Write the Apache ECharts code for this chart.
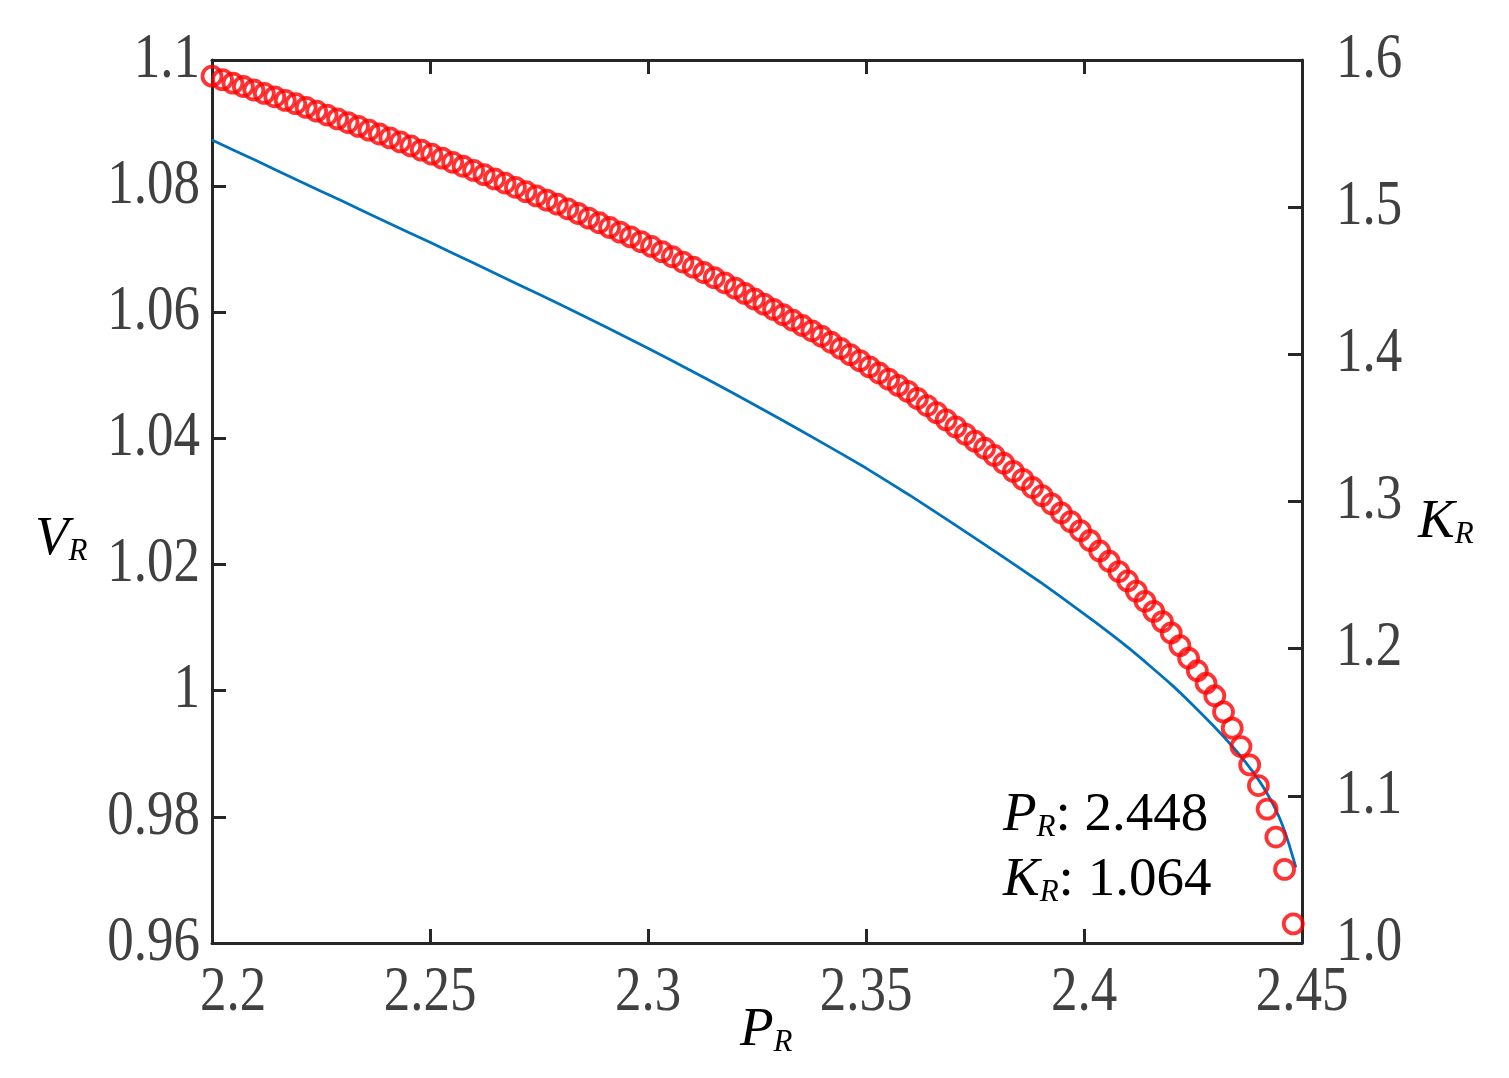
<!DOCTYPE html>
<html>
<head>
<meta charset="utf-8">
<script src="https://cdn.jsdelivr.net/npm/echarts@6/dist/echarts.min.js"></script>
<style>
  html, body { margin: 0; padding: 0; background: #fff; }
  #chart { width: 1509px; height: 1078px; }
</style>
</head>
<body>
<div id="chart"></div>
<script>
// red circles: P_R vs K_R (right axis)
const prK = [
  2.2000, 2.2024, 2.2048, 2.2072, 2.2096, 2.2120, 2.2144, 2.2168, 2.2192, 2.2216,
  2.2240, 2.2264, 2.2288, 2.2312, 2.2336, 2.2360, 2.2384, 2.2408, 2.2432, 2.2456,
  2.2480, 2.2504, 2.2528, 2.2552, 2.2576, 2.2600, 2.2624, 2.2648, 2.2672, 2.2696,
  2.2720, 2.2744, 2.2768, 2.2792, 2.2816, 2.2840, 2.2864, 2.2888, 2.2912, 2.2936,
  2.2960, 2.2984, 2.3008, 2.3032, 2.3056, 2.3080, 2.3104, 2.3128, 2.3152, 2.3176,
  2.3200, 2.3222, 2.3244, 2.3266, 2.3288, 2.3310, 2.3332, 2.3354, 2.3376, 2.3398,
  2.3420, 2.3442, 2.3464, 2.3486, 2.3508, 2.3530, 2.3552, 2.3574, 2.3596, 2.3618,
  2.3640, 2.3662, 2.3684, 2.3706, 2.3728, 2.3750, 2.3772, 2.3794, 2.3816, 2.3838,
  2.3860, 2.3882, 2.3904, 2.3926, 2.3948, 2.3970, 2.3992, 2.4014, 2.4036, 2.4058,
  2.4080, 2.4100, 2.4120, 2.4140, 2.4160, 2.4180, 2.4200, 2.4220, 2.4240, 2.4260,
  2.4280, 2.4300, 2.4320, 2.4340, 2.4360, 2.4380, 2.4400, 2.4420, 2.4440, 2.4460,
  2.4480
]
const kR = [
  1.5890, 1.5867, 1.5843, 1.5820, 1.5796, 1.5773, 1.5750, 1.5726, 1.5703, 1.5678,
  1.5652, 1.5626, 1.5600, 1.5575, 1.5549, 1.5523, 1.5497, 1.5471, 1.5443, 1.5416,
  1.5388, 1.5360, 1.5333, 1.5305, 1.5278, 1.5250, 1.5221, 1.5192, 1.5164, 1.5135,
  1.5106, 1.5077, 1.5048, 1.5020, 1.4989, 1.4957, 1.4925, 1.4894, 1.4862, 1.4830,
  1.4798, 1.4766, 1.4733, 1.4698, 1.4663, 1.4627, 1.4592, 1.4556, 1.4521, 1.4486,
  1.4450, 1.4414, 1.4377, 1.4341, 1.4305, 1.4269, 1.4232, 1.4196, 1.4160, 1.4123,
  1.4082, 1.4040, 1.3998, 1.3957, 1.3915, 1.3873, 1.3831, 1.3789, 1.3748, 1.3700,
  1.3652, 1.3604, 1.3555, 1.3507, 1.3458, 1.3410, 1.3362, 1.3313, 1.3260, 1.3205,
  1.3150, 1.3095, 1.3040, 1.2984, 1.2923, 1.2863, 1.2802, 1.2735, 1.2664, 1.2594,
  1.2524, 1.2460, 1.2391, 1.2322, 1.2253, 1.2184, 1.2107, 1.2021, 1.1935, 1.1850,
  1.1765, 1.1680, 1.1570, 1.1460, 1.1335, 1.1210, 1.1070, 1.0910, 1.0720, 1.0500,
  1.0130
]

// blue line: P_R vs V_R (left axis)
const prV = [
  2.2000, 2.2100, 2.2200, 2.2300, 2.2400, 2.2500, 2.2600, 2.2700, 2.2800, 2.2900,
  2.3000, 2.3100, 2.3200, 2.3300, 2.3400, 2.3500, 2.3600, 2.3700, 2.3800, 2.3900,
  2.4000, 2.4050, 2.4100, 2.4150, 2.4200, 2.4250, 2.4300, 2.4340, 2.4370, 2.4400,
  2.4420, 2.4440, 2.4455, 2.4470, 2.4486
]
const vR = [
  1.0873, 1.0841, 1.0808, 1.0776, 1.0743, 1.0711, 1.0678, 1.0645, 1.0612, 1.0578,
  1.0543, 1.0507, 1.0470, 1.0432, 1.0393, 1.0353, 1.0310, 1.0265, 1.0219, 1.0172,
  1.0122, 1.0096, 1.0069, 1.0040, 1.0010, 0.9977, 0.9942, 0.9912, 0.9887, 0.9859,
  0.9837, 0.9811, 0.9787, 0.9757, 0.9720
]

// tick values and their labels
const xTickVals = [2.2, 2.25, 2.3, 2.35, 2.4, 2.45]
const xTickText = ['2.2', '2.25', '2.3', '2.35', '2.4', '2.45']
const vTickVals = [0.96, 0.98, 1.0, 1.02, 1.04, 1.06, 1.08, 1.1]
const vTickText = ['0.96', '0.98', '1', '1.02', '1.04', '1.06', '1.08', '1.1']
const kTickVals = [1.0, 1.1, 1.2, 1.3, 1.4, 1.5, 1.6]
const kTickText = ['1.0', '1.1', '1.2', '1.3', '1.4', '1.5', '1.6']

const serif = "'Liberation Serif', 'Times New Roman', serif"
const axisColor = '#262626'
const labelColor = '#404040'
const tickFont = '53px ' + serif
const tickStretch = 1.2

// italic letter with a small italic R subscript, as rich text
function subLabel(letter, tail) {
  return {
    text: '{m|' + letter + '}{s|R}' + (tail ? '{t|' + tail + '}' : ''),
    rich: {
      m: { fontFamily: serif, fontStyle: 'italic', fontSize: 55, lineHeight: 55, verticalAlign: 'bottom', fill: '#000' },
      s: { fontFamily: serif, fontStyle: 'italic', fontSize: 31, lineHeight: 42, verticalAlign: 'bottom', fill: '#000' },
      t: { fontFamily: serif, fontSize: 55, lineHeight: 55, verticalAlign: 'bottom', fill: '#000' }
    }
  }
}

function textEl(x, y, letter, tail) {
  return {
    type: 'text',
    x: x,
    y: y,
    z: 10,
    style: Object.assign({ textAlign: 'left', textVerticalAlign: 'middle' }, subLabel(letter, tail))
  }
}

// tick label drawn at an axis position, stretched vertically like the original
function tickLabel(pt, text, align, vAlign) {
  return {
    type: 'text',
    x: pt[0],
    y: pt[1],
    scaleY: tickStretch,
    style: {
      text: text,
      font: tickFont,
      fill: labelColor,
      align: align,
      verticalAlign: vAlign,
      textAlign: align,
      textVerticalAlign: vAlign
    }
  }
}

const chart = echarts.init(document.getElementById('chart'))

const axisLine = { show: true, onZero: false, lineStyle: { color: axisColor, width: 3 } }
const axisTick = { show: true, inside: true, length: 14, lineStyle: { color: axisColor, width: 3 } }

const xBase = {
  type: 'value',
  min: 2.2,
  max: 2.45,
  interval: 0.05,
  axisLine: axisLine,
  axisTick: axisTick,
  axisLabel: { show: false },
  splitLine: { show: false }
}

const option = {
  backgroundColor: '#fff',
  animation: false,
  grid: { left: 212, right: 207, top: 60, bottom: 135 },
  xAxis: [
    Object.assign({}, xBase, { position: 'bottom' }),
    Object.assign({}, xBase, { position: 'top' })
  ],
  yAxis: [
    {
      type: 'value',
      position: 'left',
      min: 0.96,
      max: 1.1,
      interval: 0.02,
      axisLine: axisLine,
      axisTick: axisTick,
      axisLabel: { show: false },
      splitLine: { show: false }
    },
    {
      type: 'value',
      position: 'right',
      min: 1.0,
      max: 1.6,
      interval: 0.1,
      axisLine: axisLine,
      axisTick: axisTick,
      axisLabel: { show: false },
      splitLine: { show: false }
    }
  ],
  series: [
    {
      type: 'line',
      xAxisIndex: 0,
      yAxisIndex: 0,
      data: prV.map((p, i) => [p, vR[i]]),
      showSymbol: false,
      smooth: 0.15,
      lineStyle: { color: '#0072BD', width: 2.8 },
      z: 2
    },
    {
      type: 'scatter',
      xAxisIndex: 0,
      yAxisIndex: 1,
      data: prK.map((p, i) => [p, kR[i]]),
      symbol: 'circle',
      symbolSize: 19,
      clip: false,
      itemStyle: { color: 'rgba(0,0,0,0)', borderColor: '#ff0000', borderWidth: 3.8 },
      z: 3
    },
    // x tick labels (the first one sits just right of the corner, as in the original)
    {
      type: 'custom',
      xAxisIndex: 0,
      yAxisIndex: 0,
      clip: false,
      silent: true,
      data: xTickVals.map((v, i) => [v, i]),
      renderItem: (params, api) => {
        const i = api.value(1)
        const pt = api.coord([api.value(0), 0.96])
        if (i === 0) return tickLabel([pt[0] - 12, pt[1] + 18], xTickText[i], 'left', 'top')
        return tickLabel([pt[0], pt[1] + 18], xTickText[i], 'center', 'top')
      }
    },
    // left (V_R) tick labels
    {
      type: 'custom',
      xAxisIndex: 0,
      yAxisIndex: 0,
      clip: false,
      silent: true,
      data: vTickVals.map((v, i) => [i, v]),
      renderItem: (params, api) => {
        const pt = api.coord([2.2, api.value(1)])
        return tickLabel([pt[0] - 12, pt[1]], vTickText[api.value(0)], 'right', 'middle')
      }
    },
    // right (K_R) tick labels
    {
      type: 'custom',
      xAxisIndex: 0,
      yAxisIndex: 1,
      clip: false,
      silent: true,
      data: kTickVals.map((v, i) => [i, v]),
      renderItem: (params, api) => {
        const pt = api.coord([2.45, api.value(1)])
        return tickLabel([pt[0] + 34, pt[1]], kTickText[api.value(0)], 'left', 'middle')
      }
    }
  ],
  graphic: [
    textEl(35, 540, 'V'),
    textEl(740, 1031, 'P'),
    textEl(1418, 523, 'K'),
    textEl(1003, 816, 'P', ': 2.448'),
    textEl(1003, 881, 'K', ': 1.064')
  ]
}

chart.setOption(option)
</script>
</body>
</html>
